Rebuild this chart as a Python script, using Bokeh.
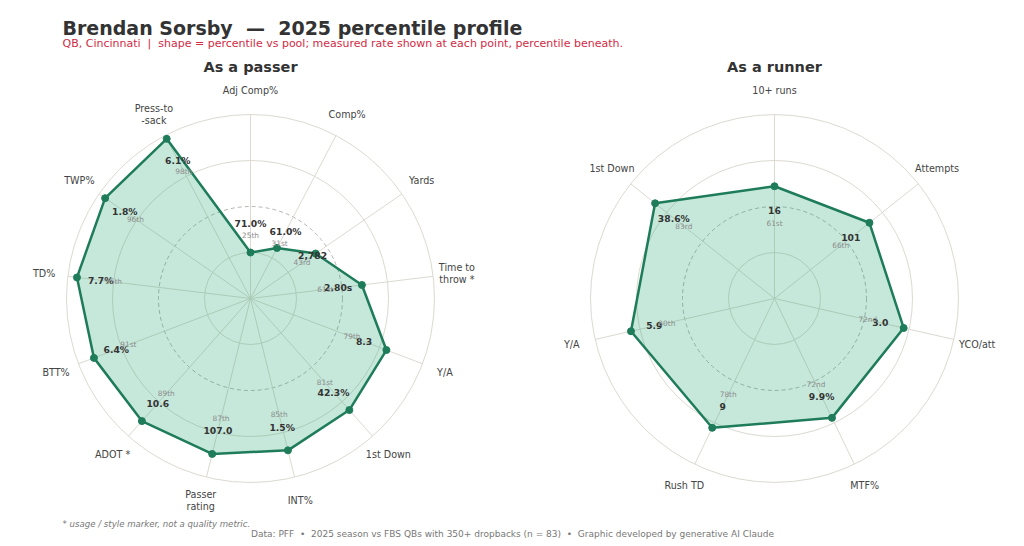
import numpy as np
from bokeh.plotting import figure
from bokeh.models import Range1d
from bokeh.core.properties import value
from bokeh.embed import file_html
from bokeh.resources import INLINE

# ---------------- data ----------------
pass_labels = ["Adj Comp%", "Comp%", "Yards", "Time to\nthrow *", "Y/A", "1st Down",
               "INT%", "Passer\nrating", "ADOT *", "BTT%", "TD%", "TWP%", "Press-to\n-sack"]
pass_pct = [25, 31, 43, 61, 79, 81, 85, 87, 89, 91, 95, 96, 98]
pass_vals = ["71.0%", "61.0%", "2,782", "2.80s", "8.3", "42.3%", "1.5%", "107.0",
             "10.6", "6.4%", "7.7%", "1.8%", "6.1%"]

run_labels = ["10+ runs", "Attempts", "YCO/att", "MTF%", "Rush TD", "Y/A", "1st Down"]
run_pct = [61, 66, 72, 72, 78, 80, 83]
run_vals = ["16", "101", "3.0", "9.9%", "9", "5.9", "38.6%"]

ring_levels = [25, 50, 75, 100]

SP2 = " \u00a0"  # double space that survives SVG whitespace collapsing
title = f"Brendan Sorsby{SP2}\u2014{SP2}2025 percentile profile"
subtitle = (f"QB, Cincinnati{SP2}|{SP2}shape = percentile vs pool; measured rate shown at each point, "
            "percentile beneath.")
panel_titles = ["As a passer", "As a runner"]
footnote = "* usage / style marker, not a quality metric."
source_note = (f"Data: PFF{SP2}\u2022{SP2}2025 season vs FBS QBs with 350+ dropbacks (n = 83){SP2}\u2022{SP2}"
               "Graphic developed by generative AI Claude")

# ---------------- style ----------------
FONT = value("DejaVu Sans")
LINE = "#1e7c5a"
FILL = "#22a874"
GRID = "#dcd9d0"
DARK = "#333333"


def ordinal(n):
    if 10 <= n % 100 <= 20:
        suf = "th"
    else:
        suf = {1: "st", 2: "nd", 3: "rd"}.get(n % 10, "th")
    return f"{n}{suf}"


W, H = 1024, 546
p = figure(width=W, height=H, x_range=Range1d(0, W), y_range=Range1d(H, 0),
           output_backend="svg", toolbar_location=None, min_border=0,
           x_axis_type=None, y_axis_type=None)
p.grid.visible = False
p.outline_line_color = None
p.background_fill_color = "white"
p.border_fill_color = "white"


def radar(cx, cy, R, labels, pcts, vals):
    n = len(labels)
    ang = np.deg2rad(90 - np.arange(n) * 360.0 / n)
    cos, sin = np.cos(ang), np.sin(ang)

    # rings
    solid = [lv for lv in ring_levels if lv != 50]
    p.circle(x=[cx] * len(solid), y=[cy] * len(solid),
             radius=[R * lv / 100 for lv in solid],
             fill_color=None, line_color=GRID, line_width=1)
    p.circle(x=[cx], y=[cy], radius=[R * 0.5], fill_color=None,
             line_color="#b4b4b0", line_width=1, line_dash="4 3")
    # spokes
    p.segment(x0=[cx] * n, y0=[cy] * n, x1=list(cx + R * cos), y1=list(cy - R * sin),
              line_color=GRID, line_width=1)

    pr = np.array(pcts, dtype=float) / 100 * R
    px = cx + pr * cos
    py = cy - pr * sin
    p.patch(x=list(px), y=list(py), fill_color=FILL, fill_alpha=0.26, line_color=None)
    p.line(x=list(px) + [px[0]], y=list(py) + [py[0]], line_color=LINE, line_width=2.5,
           line_join="round")
    p.scatter(x=list(px), y=list(py), size=7, fill_color=LINE, line_color=LINE)

    # axis labels
    lr = R * 1.13
    p.text(x=list(cx + lr * cos), y=list(cy - lr * sin), text=labels,
           text_align="center", text_baseline="middle", text_font=FONT,
           text_font_size="9.6px", text_color="#444444", text_line_height=1.15)

    # value and percentile labels
    vr = np.maximum(np.array(pcts) - 13, 41) / 100 * R
    qr = vr - 0.07 * R
    p.text(x=list(cx + vr * cos), y=list(cy - vr * sin), text=vals,
           text_align="center", text_baseline="middle", text_font=FONT,
           text_font_size="9.2px", text_font_style="bold", text_color=DARK)
    p.text(x=list(cx + qr * cos), y=list(cy - qr * sin), text=[ordinal(v) for v in pcts],
           text_align="center", text_baseline="middle", text_font=FONT,
           text_font_size="7.4px", text_color="#8c8c8c")


radar(250, 298, 184, pass_labels, pass_pct, pass_vals)
radar(774, 298, 184, run_labels, run_pct, run_vals)

# titles
p.text(x=[62], y=[27], text=[title], text_align="left", text_baseline="middle",
       text_font=FONT, text_font_size="19px", text_font_style="bold", text_color=DARK)
p.text(x=[62], y=[43], text=[subtitle], text_align="left", text_baseline="middle",
       text_font=FONT, text_font_size="11px", text_color="#d22b45")
p.text(x=[250, 774], y=[66, 66], text=panel_titles, text_align="center",
       text_baseline="middle", text_font=FONT, text_font_size="14.5px",
       text_font_style="bold", text_color=DARK)
p.text(x=[62], y=[523], text=[footnote], text_align="left", text_baseline="middle",
       text_font=FONT, text_font_size="8.6px", text_font_style="italic", text_color="#777777")
p.text(x=[512], y=[533], text=[source_note], text_align="center", text_baseline="middle",
       text_font=FONT, text_font_size="9px", text_color="#777777")

open("out.html", "w").write(file_html(p, INLINE))
